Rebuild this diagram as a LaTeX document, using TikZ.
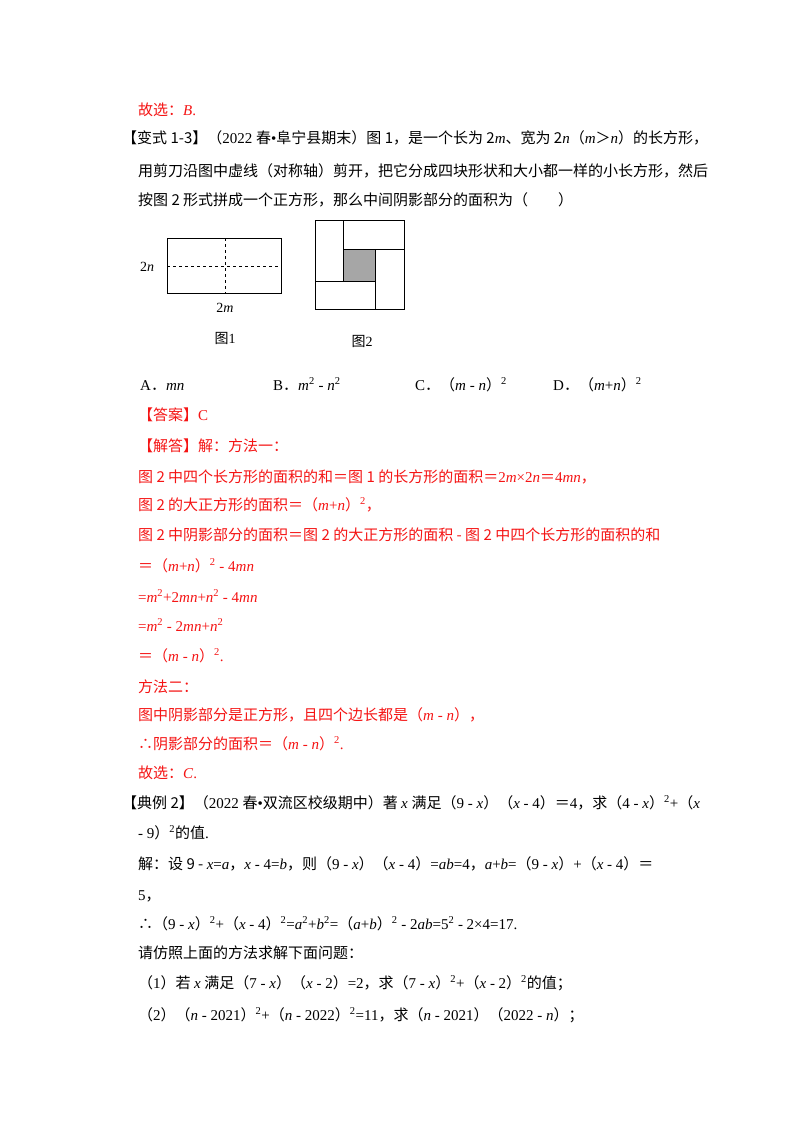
\documentclass[tikz,border=0pt]{standalone}
\usepackage{fontspec}
\setmainfont{Liberation Serif}
\newfontfamily\cjk{Noto Sans CJK SC}
\newfontfamily\lat{Liberation Serif}
% CJK runs switch fonts by themselves
\XeTeXinterchartokenstate=1
\newXeTeXintercharclass\cjkclass
\newcount\cc
\cc="3000 \loop \XeTeXcharclass\cc=\cjkclass \advance\cc1 \ifnum\cc<"9FFF \repeat
\cc="FF00 \loop \XeTeXcharclass\cc=\cjkclass \advance\cc1 \ifnum\cc<"FFEF \repeat
\XeTeXcharclass"2234=\cjkclass
\XeTeXinterchartoks 0 \cjkclass = {\cjk}
\XeTeXinterchartoks 4095 \cjkclass = {\cjk}
\XeTeXinterchartoks \cjkclass 0 = {\lat}
\definecolor{ansred}{RGB}{245,20,20}
\newcommand{\sq}{\lat\textsuperscript{2}}
\newcommand{\vi}[1]{\lat\textit{#1}}
\newcommand{\vm}{\vi{m}}
\newcommand{\vn}{\vi{n}}
\newcommand{\vx}{\vi{x}}
\newcommand{\up}{\lat}
\tikzset{
  txt/.style={anchor=base west,inner sep=0pt,font=\fontsize{15}{18}\selectfont},
  ans/.style={txt,text=ansred},
  lbl/.style={inner sep=0pt,font=\fontsize{14}{16}\selectfont},
  fig/.style={line width=0.8pt}
}
\begin{document}
\begin{tikzpicture}[x=1pt,y=-1pt]
	\useasboundingbox[fill=white] (0,0) rectangle (800,1132);
	
	% previous answer
	\node[ans] (prev) at (138,115) {故选：\vi{B}\up.};
	
	% question
	\node[txt] (q1) at (122,143) {【变式 1-3】（2022 春•阜宁县期末）图 1，是一个长为 2\vm、宽为 2\vn（\vm＞\vn）的长方形，};
	\node[txt] (q2) at (138,176) {用剪刀沿图中虚线（对称轴）剪开，把它分成四块形状和大小都一样的小长方形，然后};
	\node[txt] (q3) at (138,205) {按图 2 形式拼成一个正方形，那么中间阴影部分的面积为（\quad\quad）};
	
	% figure 1
	\draw[fig] (167,238) rectangle (281,293);
	\draw[fig,dashed] (167,266) -- (281,266);
	\draw[fig,dashed] (225,238) -- (225,293);
	\node[lbl] (twon) at (147,267) {2\vn};
	\node[lbl] (twom) at (225,308) {2\vm};
	\node[lbl] (fig1) at (225,338) {图1};
	
	% figure 2
	\draw[fig,fill=gray!70] (343,249) rectangle (375,281);
	\draw[fig] (315,220) rectangle (404,309);
	\draw[fig] (343,220) -- (343,281) -- (315,281);
	\draw[fig] (343,249) -- (404,249);
	\draw[fig] (375,249) -- (375,309);
	\node[lbl] (fig2) at (362,341) {图2};
	
	% options
	\node[txt] (optA) at (140,390) {A．\vm\vn};
	\node[txt] (optB) at (273,390) {B．\vm\sq{} - \vn\sq};
	\node[txt] (optC) at (415,390) {C．（\vm{} - \vn）\sq};
	\node[txt] (optD) at (553,390) {D．（\vm\up+\vn）\sq};
	
	% solution
	\node[ans] (s0) at (138,420) {【答案】\up C};
	\node[ans] (s1) at (138,451) {【解答】解：方法一：};
	\node[ans] (s2) at (138,482) {图 2 中四个长方形的面积的和＝图 1 的长方形的面积＝2\vm\up×2\vn＝4\vm\vn，};
	\node[ans] (s3) at (138,510) {图 2 的大正方形的面积＝（\vm\up+\vn）\sq，};
	\node[ans] (s4) at (138,540) {图 2 中阴影部分的面积＝图 2 的大正方形的面积 - 图 2 中四个长方形的面积的和};
	\node[ans] (s5) at (138,571) {＝（\vm\up+\vn）\sq{} - 4\vm\vn};
	\node[ans] (s6) at (138,602) {=\vm\sq+2\vm\vn\up+\vn\sq{} - 4\vm\vn};
	\node[ans] (s7) at (138,631) {=\vm\sq{} - 2\vm\vn\up+\vn\sq};
	\node[ans] (s8) at (138,661) {＝（\vm{} - \vn）\sq.};
	\node[ans] (s9) at (138,692) {方法二：};
	\node[ans] (s10) at (138,720) {图中阴影部分是正方形，且四个边长都是（\vm{} - \vn），};
	\node[ans] (s11) at (138,749) {∴阴影部分的面积＝（\vm{} - \vn）\sq.};
	\node[ans] (s12) at (138,778) {故选：\vi{C}\up.};
	
	% next example
	\node[txt] (e1) at (122,808) {【典例 2】（2022 春•双流区校级期中）著 \vx{} 满足（\up 9 - \vx）（\vx{} - 4）＝4，求（\up 4 - \vx）\sq+（\vx};
	\node[txt] (e2) at (138,838) {- 9）\sq 的值.};
	\node[txt] (e3) at (138,869) {解：设 9 - \vx\up=\vi{a}，\vx{} - 4=\vi{b}，则（\up 9 - \vx）（\vx{} - 4）=\vi{ab}\up=4，\vi{a}\up+\vi{b}\up=（\up 9 - \vx）+（\vx{} - 4）＝};
	\node[txt] (e4) at (138,900) {5，};
	\node[txt] (e5) at (138,929) {∴（\up 9 - \vx）\sq+（\vx{} - 4）\sq=\vi{a}\sq+\vi{b}\sq=（\vi{a}\up+\vi{b}）\sq{} - 2\vi{ab}\up=5\sq{} - 2×4=17.};
	\node[txt] (e6) at (138,958) {请仿照上面的方法求解下面问题：};
	\node[txt] (e7) at (138,988) {（\up 1）若 \vx{} 满足（\up 7 - \vx）（\vx{} - 2）=2，求（\up 7 - \vx）\sq+（\vx{} - 2）\sq 的值；};
	\node[txt] (e8) at (138,1020) {（\up 2）（\vn{} - 2021）\sq+（\vn{} - 2022）\sq=11，求（\vn{} - 2021）（\up 2022 - \vn）；};
\end{tikzpicture}
\end{document}
